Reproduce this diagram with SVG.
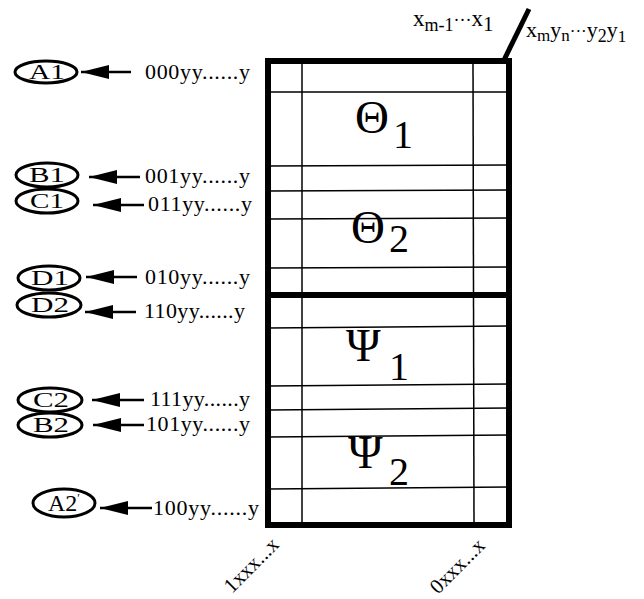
<svg xmlns="http://www.w3.org/2000/svg" width="644" height="599" viewBox="0 0 644 599">
<defs>
<marker id="ah" markerWidth="28" markerHeight="14" refX="28" refY="7" orient="auto" markerUnits="userSpaceOnUse" viewBox="0 0 28 14">
<path d="M0,0 L28,7 L0,14 Z" fill="#000"/>
</marker>
<style>
.thick{stroke:#000;stroke-width:6;fill:none}
.thin{stroke:#000;stroke-width:1.5;fill:none}
.node ellipse{fill:#fff;stroke:#000;stroke-width:3}
.node text{font-family:"Liberation Serif",serif;font-size:21px;text-anchor:middle}
.lbl{font-family:"Liberation Serif",serif;font-size:22px}
.big{font-family:"Liberation Serif",serif;font-size:40px}
.greek{font-family:"Liberation Serif",serif;font-size:47px}
.conn line{stroke:#000;stroke-width:2.5}
</style>
</defs>
<rect width="644" height="599" fill="#fff"/>

<g id="grid">
<line class="thin" x1="302" y1="61" x2="302" y2="525"/>
<line class="thin" x1="473" y1="61" x2="474" y2="525"/>
<line class="thin" x1="268" y1="92" x2="509" y2="92"/>
<line class="thin" x1="268" y1="166" x2="509" y2="165"/>
<line class="thin" x1="268" y1="191" x2="509" y2="190"/>
<line class="thin" x1="268" y1="219" x2="509" y2="218"/>
<line class="thin" x1="268" y1="268" x2="509" y2="267"/>
<line class="thin" x1="268" y1="328" x2="509" y2="326"/>
<line class="thin" x1="268" y1="386" x2="509" y2="384"/>
<line class="thin" x1="268" y1="410" x2="509" y2="408"/>
<line class="thin" x1="268" y1="437" x2="509" y2="435"/>
<line class="thin" x1="268" y1="489" x2="509" y2="487"/>
<rect class="thick" x="268" y="61" width="241" height="464"/>
<line class="thick" x1="265" y1="295" x2="512" y2="295"/>
<line x1="504" y1="60" x2="529" y2="9" stroke="#000" stroke-width="5"/>
</g>

<g id="regions">
<text class="greek" x="355" y="133">Θ</text><text class="big" x="393" y="148">1</text>
<text class="greek" x="351" y="243">Θ</text><text class="big" x="389" y="252">2</text>
<text class="greek" x="346" y="361">Ψ</text><text class="big" x="389" y="380">1</text>
<text class="greek" x="348" y="468">Ψ</text><text class="big" x="389" y="485">2</text>
</g>

<g id="toplabels" font-family="Liberation Serif, serif">
<text x="413" y="26" font-size="23">x<tspan font-size="18" dy="5">m-1</tspan><tspan dy="-5" font-size="18">···</tspan>x<tspan font-size="21" dy="5">1</tspan></text>
<text x="526" y="37" font-size="22">x<tspan font-size="17" dy="4">m</tspan><tspan dy="-4">y</tspan><tspan font-size="17" dy="4">n</tspan><tspan dy="-4" font-size="17">···</tspan>y<tspan font-size="18" dy="5">2</tspan><tspan dy="-5">y</tspan><tspan font-size="17" dy="5">1</tspan></text>
</g>

<g id="bottomlabels" font-family="Liberation Serif, serif" font-size="21">
<text transform="translate(232,594) rotate(-45)">1xxx...x</text>
<text transform="translate(438,595) rotate(-45)">0xxx...x</text>
</g>

<g id="A1" class="node"><ellipse cx="46" cy="72" rx="31" ry="11"/><text x="47" y="79" textLength="36" lengthAdjust="spacingAndGlyphs">A1</text></g>
<g id="B1" class="node"><ellipse cx="47" cy="175" rx="31" ry="12"/><text x="47" y="182" textLength="36" lengthAdjust="spacingAndGlyphs">B1</text></g>
<g id="C1" class="node"><ellipse cx="47" cy="201" rx="31" ry="12"/><text x="47" y="208" textLength="34" lengthAdjust="spacingAndGlyphs">C1</text></g>
<g id="D1" class="node"><ellipse cx="49" cy="278" rx="31" ry="12"/><text x="50" y="285" textLength="38" lengthAdjust="spacingAndGlyphs">D1</text></g>
<g id="D2" class="node"><ellipse cx="49" cy="305" rx="32" ry="12"/><text x="50" y="312" textLength="38" lengthAdjust="spacingAndGlyphs">D2</text></g>
<g id="C2" class="node"><ellipse cx="50" cy="400" rx="32" ry="12"/><text x="51" y="407" textLength="36" lengthAdjust="spacingAndGlyphs">C2</text></g>
<g id="B2" class="node"><ellipse cx="50" cy="425" rx="32" ry="12"/><text x="51" y="432" textLength="36" lengthAdjust="spacingAndGlyphs">B2</text></g>
<g id="A2" class="node"><ellipse cx="64" cy="503" rx="31" ry="14"/><text x="64" y="511" style="font-size:24px">A2<tspan style="font-size:12px" dy="-9">′</tspan></text></g>

<g id="connectors" class="conn">
<line x1="131" y1="72" x2="81" y2="72" marker-end="url(#ah)"/>
<line x1="140" y1="177" x2="89" y2="177" marker-end="url(#ah)"/>
<line x1="144" y1="205" x2="93" y2="205" marker-end="url(#ah)"/>
<line x1="137" y1="277" x2="86" y2="277" marker-end="url(#ah)"/>
<line x1="136" y1="312" x2="85" y2="312" marker-end="url(#ah)"/>
<line x1="144" y1="400" x2="92" y2="400" marker-end="url(#ah)"/>
<line x1="144" y1="425" x2="93" y2="425" marker-end="url(#ah)"/>
<line x1="152" y1="508" x2="100" y2="508" marker-end="url(#ah)"/>
</g>

<g id="codes">
<text class="lbl" x="145" y="79" textLength="105">000yy......y</text>
<text class="lbl" x="145" y="183" textLength="105">001yy......y</text>
<text class="lbl" x="148" y="211" textLength="104">011yy......y</text>
<text class="lbl" x="145" y="284" textLength="105">010yy......y</text>
<text class="lbl" x="144" y="318" textLength="101">110yy......y</text>
<text class="lbl" x="150" y="406" textLength="100">111yy......y</text>
<text class="lbl" x="146" y="431" textLength="104">101yy......y</text>
<text class="lbl" x="153" y="515" textLength="106">100yy......y</text>
</g>
</svg>
